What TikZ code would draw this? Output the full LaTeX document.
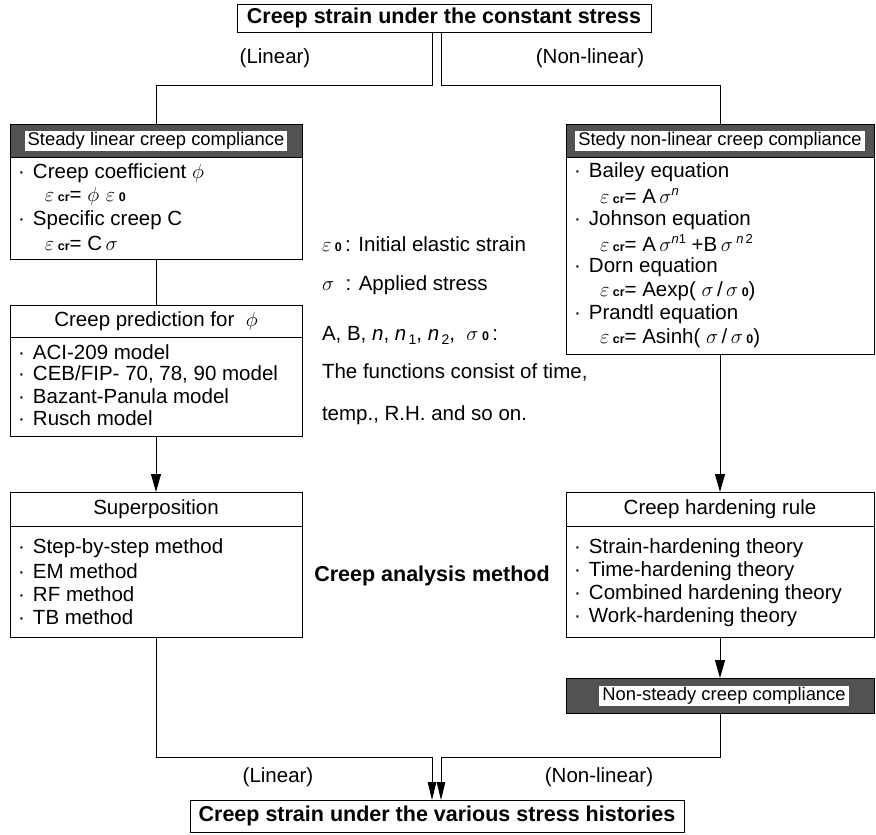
\RequirePackage{fix-cm}
\documentclass[tikz,border=0pt]{standalone}
\usepackage{fontspec}
\setmainfont{Liberation Sans}
\usetikzlibrary{arrows.meta,calc}
\newcommand\lsub[1]{{\fontsize{12.5}{12.5}\selectfont\bfseries #1}}
\newcommand\bul{\makebox[15pt][l]{·}}
\newcommand\supn[1]{\raisebox{8pt}{\fontsize{13}{13}\selectfont\textit{n}#1}}
\newcommand\subn[1]{\textit{n}\raisebox{-4pt}{\fontsize{14}{14}\selectfont\,#1}}
\begin{document}
\begin{tikzpicture}[x=1pt,y=-1pt,
  every node/.style={inner sep=0pt, outer sep=0pt},
  frame/.style={draw=black, line width=1pt, fill=white},
  band/.style={fill=black!68, draw=black, line width=1pt},
  hdr/.style={fill=white, inner xsep=3pt, inner ysep=1.5pt, text height=13pt, text depth=4pt, font=\fontsize{18.4}{20}\selectfont},
  item/.style={anchor=west, font=\fontsize{20.5}{23}\selectfont},
  ttl/.style={font=\fontsize{20.5}{23}\selectfont},
  btitle/.style={font=\fontsize{21.5}{24}\selectfont\bfseries},
  conn/.style={line width=1pt},
  arr/.style={line width=1pt, -{Triangle[length=18pt,width=10pt]}},
  arr2/.style={line width=1pt, -{Triangle[length=18pt,width=8.5pt]}},
]
\useasboundingbox (0,0) rectangle (876,835);

% top box
\node[frame, btitle, minimum width=414pt, minimum height=28pt] (top) at (444,18) {Creep strain under the constant stress};
\node[ttl] (labL1) at (275,58) {(Linear)};
\node[ttl] (labN1) at (590,58) {(Non-linear)};

% left steady box
\node[frame, minimum width=292pt, minimum height=135pt] (lsteady) at (156,191.5) {};
\node[band, minimum width=292pt, minimum height=33pt, anchor=north] (lband) at (lsteady.north) {};
\node[hdr] (lhdr) at (lband) {Steady linear creep compliance};
\node[item] (l1) at (18,173) {\bul Creep coefficient $\phi$};
\node[item] (l2) at (45,196) {$\varepsilon$\,\lsub{cr}= $\phi$\,\,$\varepsilon$\,\lsub{0}};
\node[item] (l3) at (18,220) {\bul Specific creep C};
\node[item] (l4) at (45,243) {$\varepsilon$\,\lsub{cr}= C\,$\sigma$};

% right steady box
\node[frame, minimum width=308pt, minimum height=230pt] (rsteady) at (720,239) {};
\node[band, minimum width=308pt, minimum height=33pt, anchor=north] (rband) at (rsteady.north) {};
\node[hdr] (rhdr) at (rband) {Stedy non-linear creep compliance};
\node[item] (r1) at (574,172) {\bul Bailey equation};
\node[item] (r2) at (600,196) {$\varepsilon$\,\lsub{cr}= A\,$\sigma$\supn{}};
\node[item] (r3) at (574,220) {\bul Johnson equation};
\node[item] (r4) at (600,243) {$\varepsilon$\,\lsub{cr}= A\,$\sigma$\supn{1} +B\,$\sigma$\,\supn{\,2}};
\node[item] (r5) at (574,267) {\bul Dorn equation};
\node[item] (r6) at (600,291) {$\varepsilon$\,\lsub{cr}= Aexp( $\sigma$\,/\,$\sigma$\,\lsub{0})};
\node[item] (r7) at (574,314) {\bul Prandtl equation};
\node[item] (r8) at (600,338) {$\varepsilon$\,\lsub{cr}= Asinh( $\sigma$\,/\,$\sigma$\,\lsub{0})};

% middle notes
\node[item] (m1) at (322,244) {$\varepsilon$\,\lsub{0}\,: Initial elastic strain};
\node[item] (m2) at (322,285) {$\sigma$\ \ : Applied stress};
\node[item] (m3) at (322,335) {A, B, \textit{n}, \subn{1}, \subn{2}, \ $\sigma$\,\lsub{0}\,:};
\node[item] (m4) at (322,372) {The functions consist of time,};
\node[item] (m5) at (322,415) {temp., R.H. and so on.};

% prediction box
\node[frame, minimum width=292pt, minimum height=131pt] (pred) at (156,370.5) {};
\node[ttl] (predt) at (156,321) {Creep prediction for \ $\phi$};
\draw[conn] ($(pred.north west)+(0,32)$) -- ($(pred.north east)+(0,32)$);
\node[item] (p1) at (18,352) {\bul ACI-209 model};
\node[item] (p2) at (18,374) {\bul CEB/FIP- 70, 78, 90 model};
\node[item] (p3) at (18,396) {\bul Bazant-Panula model};
\node[item] (p4) at (18,418) {\bul Rusch model};

% superposition box
\node[frame, minimum width=292pt, minimum height=145pt] (sup) at (156,564.5) {};
\node[ttl] (supt) at (156,509) {Superposition};
\draw[conn] ($(sup.north west)+(0,34)$) -- ($(sup.north east)+(0,34)$);
\node[item] (s1) at (18,548) {\bul Step-by-step method};
\node[item] (s2) at (18,571) {\bul EM method};
\node[item] (s3) at (18,594) {\bul RF method};
\node[item] (s4) at (18,617) {\bul TB method};

% hardening box
\node[frame, minimum width=308pt, minimum height=145pt] (hard) at (720,564.5) {};
\node[ttl] (hardt) at (720,509) {Creep hardening rule};
\draw[conn] ($(hard.north west)+(0,34)$) -- ($(hard.north east)+(0,34)$);
\node[item] (h1) at (574,548) {\bul Strain-hardening theory};
\node[item] (h2) at (574,571) {\bul Time-hardening theory};
\node[item] (h3) at (574,594) {\bul Combined hardening theory};
\node[item] (h4) at (574,617) {\bul Work-hardening theory};

\node[btitle] (cam) at (432,576) {Creep analysis method};

% non-steady
\node[band, minimum width=308pt, minimum height=35pt] (nband) at (720,695.5) {};
\node[hdr] (nhdr) at (724,695.5) {Non-steady creep compliance};

% bottom box
\node[frame, btitle, minimum width=494pt, minimum height=32pt] (bot) at (437,816) {Creep strain under the various stress histories};
\node[ttl] (labL2) at (278,777) {(Linear)};
\node[ttl] (labN2) at (599,777) {(Non-linear)};

% connectors
\coordinate (tl) at (432,85);
\coordinate (tr) at (441,85);
\draw[conn] (top.south -| tl) -- (tl) -| (lband.north);
\draw[conn] (top.south -| tr) -- (tr) -| (rband.north);
\draw[conn] (lsteady.south) -- (pred.north);
\draw[arr] (pred.south) -- (sup.north);
\draw[arr] (rsteady.south) -- (hard.north);
\draw[arr] (hard.south) -- (nband.north);
\coordinate (bl) at (432,757);
\coordinate (br) at (441,757);
\draw[arr2] (sup.south) |- (bl) -- (bot.north -| bl);
\draw[arr2] (nband.south) |- (br) -- (bot.north -| br);
\end{tikzpicture}
\end{document}
